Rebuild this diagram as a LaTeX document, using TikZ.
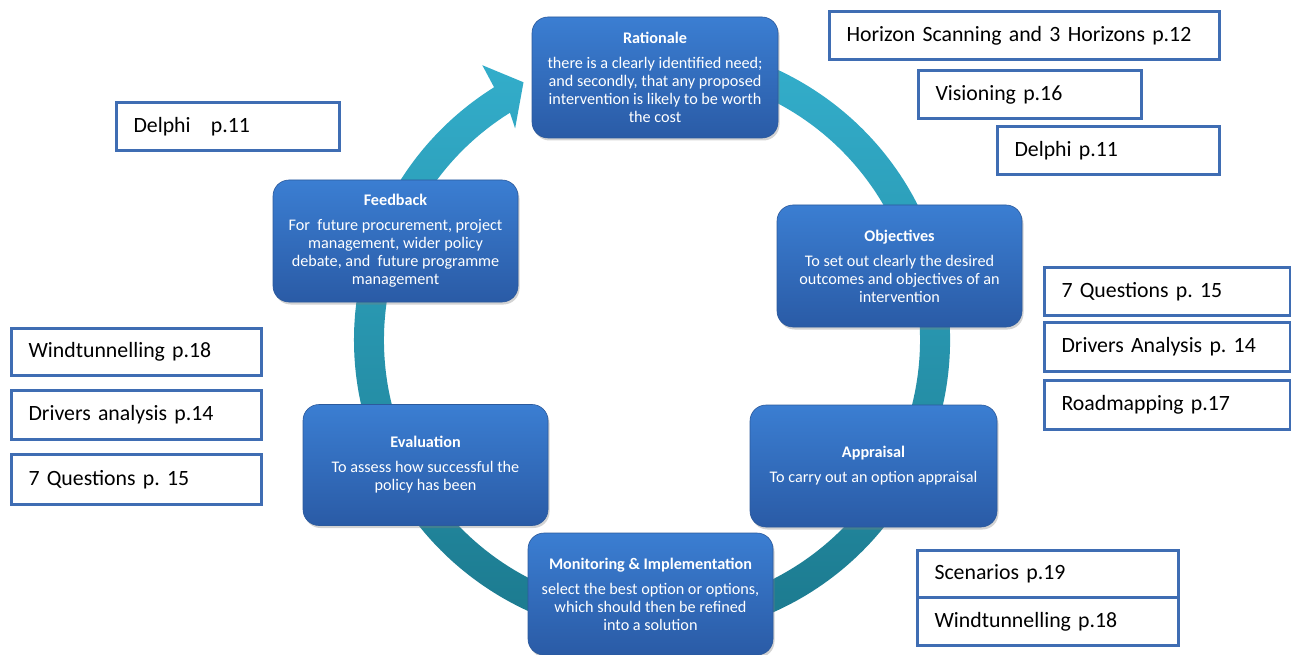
\documentclass[tikz,border=0pt]{standalone}
\usepackage{fontspec}
\setmainfont{Carlito}
\frenchspacing
\usetikzlibrary{shadows}
\definecolor{boxtop}{HTML}{3B7ED2}
\definecolor{boxbot}{HTML}{2A5BA6}
\definecolor{boxedge}{HTML}{2C5A9C}
\definecolor{ringtop}{HTML}{35B2D0}
\definecolor{ringbot}{HTML}{1A768A}
\definecolor{refedge}{HTML}{3F6DB3}
\tikzset{
  stage/.style={rounded corners=16pt, draw=boxedge, line width=0.6pt,
    top color=boxtop, bottom color=boxbot, text=white, align=center,
    inner sep=0pt, font=\fontsize{16.2}{18}\selectfont,
    drop shadow={opacity=0.35, shadow xshift=1.5pt, shadow yshift=-2.5pt}},
  refbox/.style={draw=refedge, line width=3pt, fill=white, anchor=north west,
    inner xsep=17pt, inner ysep=0pt, align=left,
    font=\fontsize{21.8}{24}\selectfont},
  ring/.style={top color=ringtop, bottom color=ringbot, draw=none}
}
\newcommand{\stitle}[1]{{\bfseries #1}\\[7pt]}
\begin{document}
\begin{tikzpicture}[x=1pt,y=-1pt]
\useasboundingbox (0,0) rectangle (1291,655);
% ring arrow
\begin{scope}[shift={(652,340)}, y=1pt]
  \shade[ring] (105:298) arc[start angle=105, end angle=-238, radius=298]
    -- (121.7:323) -- (116.5:288) -- (122.9:252) -- (-238:268)
    arc[start angle=-238, end angle=105, radius=268] -- cycle;
\end{scope}
% stages
\node[stage, minimum width=246pt, minimum height=121pt] (rat) at (655,77.5)
  {\stitle{Rationale}there is a clearly identified need;\\and secondly, that any proposed\\intervention is likely to be worth\\the cost};
\node[stage, minimum width=245pt, minimum height=122pt] (obj) at (899.5,266)
  {\stitle{Objectives}To set out clearly the desired\\outcomes and objectives of an\\intervention};
\node[stage, minimum width=247pt, minimum height=122pt] (app) at (873.5,466)
  {\stitle{Appraisal}To carry out an option appraisal};
\node[stage, minimum width=245pt, minimum height=122pt] (mon) at (650.5,594)
  {\stitle{Monitoring \& Implementation}select the best option or options,\\which should then be refined\\into a solution};
\node[stage, minimum width=245pt, minimum height=121pt] (eva) at (425.5,465)
  {\stitle{Evaluation}To assess how successful the\\policy has been};
\node[stage, minimum width=245pt, minimum height=122pt] (fee) at (395.5,241)
  {\stitle{Feedback}For\ \ future procurement, project\\management, wider policy\\debate, and\ \ future programme\\management};
% reference boxes
\node[refbox, minimum width=390pt, minimum height=48pt, text width=356pt] (hor) at (828,10) {Horizon Scanning and 3 Horizons p.12};
\node[refbox, minimum width=223pt, minimum height=48pt, text width=189pt] (vis) at (917,69) {Visioning p.16};
\node[refbox, minimum width=222pt, minimum height=48pt, text width=188pt] (delr) at (996,125) {Delphi p.11};
\node[refbox, minimum width=223pt, minimum height=48pt, text width=189pt] (dell) at (115,101) {Delphi\hspace{13pt} p.11};
\node[refbox, minimum width=246pt, minimum height=48pt, text width=212pt] (q7r) at (1043,266) {7 Questions p. 15};
\node[refbox, minimum width=246pt, minimum height=49pt, text width=212pt] (drr) at (1043,321) {Drivers Analysis p. 14};
\node[refbox, minimum width=246pt, minimum height=49pt, text width=212pt] (road) at (1043,379) {Roadmapping p.17};
\node[refbox, minimum width=250pt, minimum height=47pt, text width=216pt] (windl) at (10,327) {Windtunnelling p.18};
\node[refbox, minimum width=250pt, minimum height=49pt, text width=216pt] (drl) at (10,389) {Drivers analysis p.14};
\node[refbox, minimum width=250pt, minimum height=50pt, text width=216pt] (q7l) at (10,453) {7 Questions p. 15};
\node[refbox, minimum width=261pt, minimum height=47pt, text width=227pt] (scen) at (916,549) {Scenarios p.19};
\node[refbox, minimum width=261pt, minimum height=48pt, text width=227pt] (windr) at (916,596) {Windtunnelling p.18};
\end{tikzpicture}
\end{document}
